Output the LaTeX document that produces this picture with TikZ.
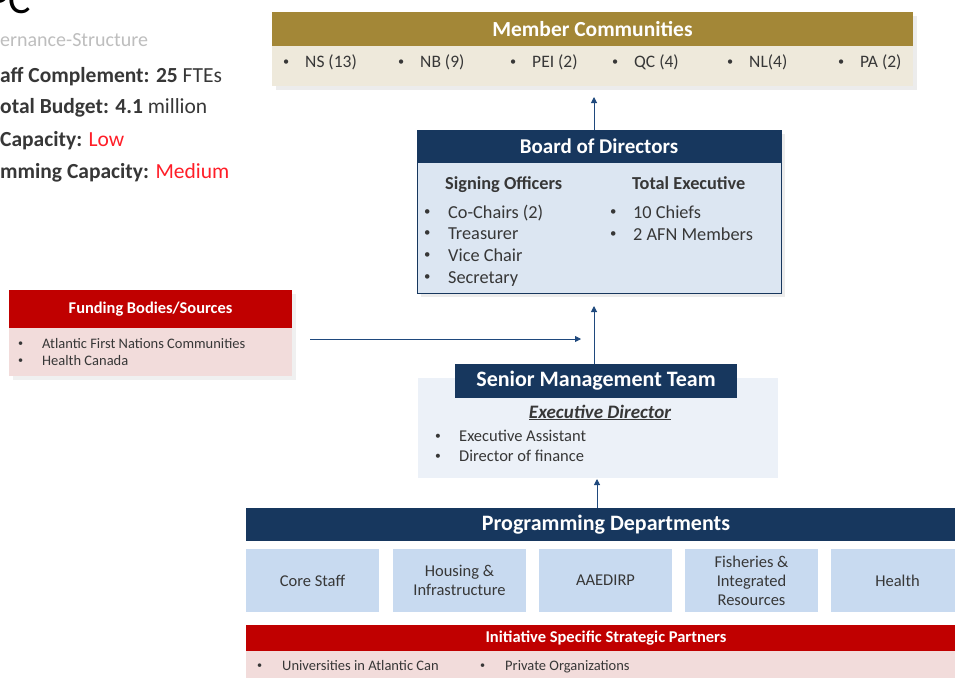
\documentclass[tikz,border=0pt]{standalone}
\usepackage{fontspec}
\setmainfont{Carlito}
\usetikzlibrary{arrows.meta}
\definecolor{gold}{RGB}{163,135,55}
\definecolor{beige}{RGB}{238,233,219}
\definecolor{navy}{RGB}{23,55,94}
\definecolor{lblue}{RGB}{220,230,242}
\definecolor{dblue}{RGB}{200,218,240}
\definecolor{sblue}{RGB}{236,241,248}
\definecolor{dred}{RGB}{192,0,0}
\definecolor{pink}{RGB}{242,220,219}
\definecolor{arr}{RGB}{31,73,125}
\definecolor{txt}{RGB}{55,55,55}
\definecolor{grey}{RGB}{190,190,190}
\definecolor{hired}{RGB}{255,30,40}
\newcommand{\fs}[1]{\fontsize{#1}{#1}\selectfont}
\newcommand{\bul}{\raisebox{0.12em}{\scalebox{0.7}{•}}}
\begin{document}
\begin{tikzpicture}[x=1pt,y=-1pt,
  rect/.style={inner sep=0pt, outer sep=0pt, anchor=north west},
  hdr/.style={inner sep=0pt, text=white, font=\bfseries\fs{22}},
  lbl/.style={inner sep=0pt, anchor=base west, text=txt, font=\fs{17.5}},
  flow/.style={draw=arr, line width=1pt, -{Triangle[length=6pt,width=6pt]}}
]
\useasboundingbox (0,0) rectangle (955,677);
\clip (0,0) rectangle (955,677);
\fill[white] (0,0) rectangle (955,677);

% top-left info
\node[inner sep=0pt, anchor=base west, font=\fs{42}, text=black] (ttl) at (-13,14) {PC};
\node[inner sep=0pt, anchor=base west, font=\fs{20}, text=grey] (sub) at (0,46.4) {ernance-Structure};
\node[inner sep=0pt, anchor=base west, font=\fs{21.5}, text=txt] (l1) at (0,82.9) {\textbf{aff Complement: 25} FTEs};
\node[inner sep=0pt, anchor=base west, font=\fs{21.5}, text=txt] (l2) at (0,113.9) {\textbf{otal Budget: 4.1} million};
\node[inner sep=0pt, anchor=base west, font=\fs{21.5}, text=txt] (l3) at (0,146.9) {\textbf{Capacity:} \textcolor{hired}{Low}};
\node[inner sep=0pt, anchor=base west, font=\fs{21.5}, text=txt] (l4) at (0,178.9) {\textbf{mming Capacity:} \textcolor{hired}{Medium}};

% Member Communities
\fill[gray!15] (276,16) rectangle (917,90);
\node[rect, fill=beige, minimum width=641, minimum height=40] (memb) at (272,46) {};
\node[rect, fill=gold, minimum width=641, minimum height=34] (memh) at (272,12) {};
\node[hdr, font=\bfseries\fs{21.5}] at (memh.center) {Member Communities};
\foreach \bx/\t/\n in {283/NS (13)/a, 398/NB (9)/b, 510/PEI (2)/c, 612/QC (4)/d, 727/NL(4)/e, 838/PA (2)/f}{
  \node[lbl] (mb\n) at (\bx,67.6) {\bul};
  \node[lbl] (mt\n) at (\bx+22,67.6) {\t};
}

% Board of Directors
\fill[gray!15] (421,134) rectangle (785,297);
\node[rect, fill=lblue, draw=navy, line width=0.8pt, minimum width=364, minimum height=163] (bod) at (417,130) {};
\node[rect, fill=navy, minimum width=364, minimum height=33] (bodh) at (417,130) {};
\node[hdr, font=\bfseries\fs{21}] at (bodh.center) {Board of Directors};
\node[lbl, font=\bfseries\fs{18.3}] (so) at (445,189.9) {Signing Officers};
\node[lbl, font=\bfseries\fs{18.3}] (te) at (632,189.9) {Total Executive};
\foreach \y/\t/\n in {218/Co-Chairs (2)/a, 239/Treasurer/b, 261/Vice Chair/c, 283/Secretary/d}{
  \node[lbl, font=\fs{18.3}] (sb\n) at (424,\y) {\bul};
  \node[lbl, font=\fs{18.3}] (st\n) at (448,\y) {\t};
}
\foreach \y/\t/\n in {218/10 Chiefs/a, 240/2 AFN Members/b}{
  \node[lbl, font=\fs{18.3}] (tb\n) at (610,\y) {\bul};
  \node[lbl, font=\fs{18.3}] (tt\n) at (633,\y) {\t};
}

% Funding
\fill[gray!12] (13,294) rectangle (296,380);
\node[rect, fill=pink, minimum width=283, minimum height=48] (fund) at (9,328) {};
\node[rect, fill=dred, minimum width=283, minimum height=38] (fundh) at (9,290) {};
\node[hdr, font=\bfseries\fs{16.4}] at (fundh.center) {Funding Bodies/Sources};
\node[lbl, font=\fs{14.5}] (fb1) at (18,348.6) {\bul};
\node[lbl, font=\fs{14.5}] (ft1) at (42,348.6) {Atlantic First Nations Communities};
\node[lbl, font=\fs{14.5}] (fb2) at (18,365.6) {\bul};
\node[lbl, font=\fs{14.5}] (ft2) at (42,365.6) {Health Canada};

% Senior Management Team
\node[rect, fill=sblue, minimum width=360, minimum height=100] (smt) at (418,378) {};
\node[rect, fill=navy, minimum width=282, minimum height=34] (smth) at (455,364) {};
\node[hdr] at (smth.center) {Senior Management Team};
\node[inner sep=0pt, anchor=base, text=txt, font=\bfseries\itshape\fs{19}] (ed) at (600,418) {\underline{Executive Director}};
\node[lbl, font=\fs{16.5}] (eb1) at (435,441.3) {\bul};
\node[lbl, font=\fs{16.5}] (et1) at (459,441.3) {Executive Assistant};
\node[lbl, font=\fs{16.5}] (eb2) at (435,461.3) {\bul};
\node[lbl, font=\fs{16.5}] (et2) at (459,461.3) {Director of finance};

% Programming Departments
\node[rect, fill=navy, minimum width=712, minimum height=33] (pd) at (246,508) {};
\node[hdr] at (606,524.5) {Programming Departments};
\node[rect, fill=dblue, minimum width=133, minimum height=63] (dpa) at (246,549) {};
\node[rect, fill=dblue, minimum width=133, minimum height=63] (dpb) at (393,549) {};
\node[rect, fill=dblue, minimum width=133, minimum height=63] (dpc) at (539,549) {};
\node[rect, fill=dblue, minimum width=133, minimum height=63] (dpd) at (685,549) {};
\node[rect, fill=dblue, minimum width=133, minimum height=63] (dpe) at (831,549) {};
\tikzset{dtxt/.style={inner sep=0pt, align=center, text=txt, font={\fontsize{16.5}{19}\selectfont}}}
\node[dtxt] (dta) at (dpa.center) {Core Staff};
\node[dtxt] (dtb) at (dpb.center) {Housing \&\\Infrastructure};
\node[dtxt] (dtc) at (dpc.center) {AAEDIRP};
\node[dtxt] (dtd) at (dpd.center) {Fisheries \&\\Integrated\\Resources};
\node[dtxt] (dte) at (dpe.center) {Health};

% Initiative partners
\node[rect, fill=pink, minimum width=712, minimum height=30] (isp) at (246,650) {};
\node[rect, fill=dred, minimum width=712, minimum height=26] (isph) at (246,625) {};
\node[hdr, font=\bfseries\fs{16.5}] at (606,638) {Initiative Specific Strategic Partners};
\node[lbl, font=\fs{14.5}] (ib1) at (257,670.5) {\bul};
\node[lbl, font=\fs{14.5}] (it1) at (282,670.5) {Universities in Atlantic Can};
\node[lbl, font=\fs{14.5}] (ib2) at (480,670.5) {\bul};
\node[lbl, font=\fs{14.5}] (it2) at (505,670.5) {Private Organizations};

% connectors
\coordinate (c1) at (594,97);
\draw[flow] (bodh.north -| c1) -- (c1);
\coordinate (c2) at (594,306);
\draw[flow] (smth.north -| c2) -- (c2);
\coordinate (c3) at (597,479);
\draw[flow] (pd.north -| c3) -- (c3);
\coordinate (f1) at (310,339);
\coordinate (f2) at (581,339);
\draw[flow, line width=0.8pt] (f1) -- (f2);
\end{tikzpicture}
\end{document}
